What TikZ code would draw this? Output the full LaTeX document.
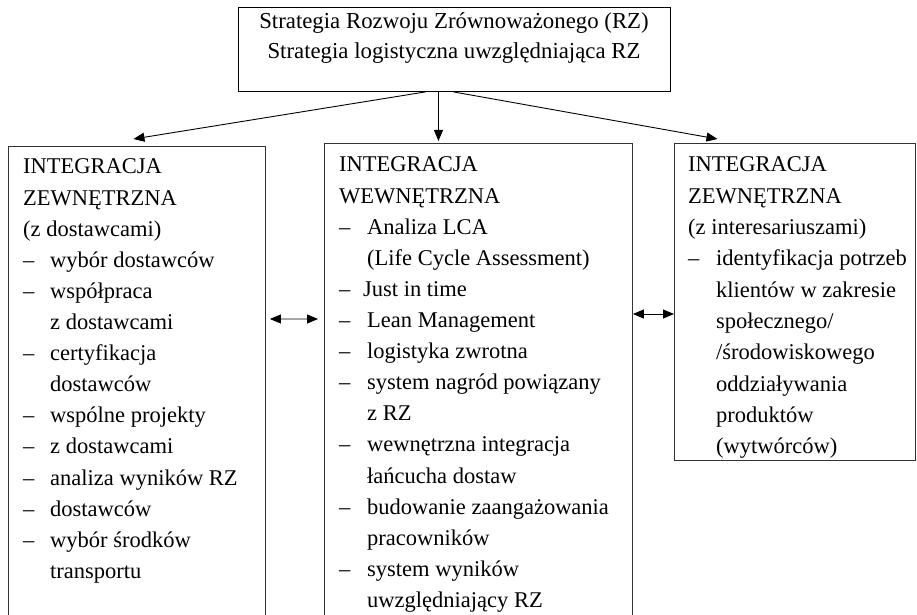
\documentclass[tikz,border=0pt]{standalone}
\usepackage{fontspec}
\setmainfont{Liberation Serif}
\usetikzlibrary{arrows.meta}

% width of the dash column in the bulleted lists
\newlength{\dashw}
\setlength{\dashw}{27bp}
\newcommand{\itm}[1]{\makebox[\dashw][l]{–}#1}
\newcommand{\cont}[1]{\hspace*{\dashw}#1}

\tikzset{
  headbox/.style={draw=black, line width=0.9bp, inner sep=0, anchor=north west},
  panel/.style={draw=black!80, line width=0.9bp, inner sep=0, anchor=north west},
  txt/.style={anchor=base west, inner sep=0, font=\fontsize{22.5bp}{31.1bp}\selectfont},
  link/.style={-{Triangle[length=11bp,width=9bp]}, line width=0.9bp},
  twoway/.style={{Triangle[length=11bp,width=9bp]}-{Triangle[length=11bp,width=9bp]}, line width=0.9bp},
}

\begin{document}
\begin{tikzpicture}[x=1bp,y=-1bp]
\useasboundingbox (0,0) rectangle (917,615);
\clip (0,0) rectangle (917,615);
\fill[white] (0,0) rectangle (917,615);

% strategy box
\node[headbox, minimum width=432bp, minimum height=84bp] (top) at (238,7) {};
\node[anchor=base, inner sep=0, font=\fontsize{22.8bp}{30bp}\selectfont] (toptxt) at (454,29)
  {\begin{tabular}[t]{@{}c@{}}Strategia Rozwoju Zrównoważonego (RZ)\\
   Strategia logistyczna uwzględniająca RZ\end{tabular}};

% three integration panels
\node[panel, minimum width=257bp, minimum height=480bp] (ext1) at (8,146) {};
\node[panel, minimum width=308bp, minimum height=480bp] (int) at (324,143) {};
\node[panel, minimum width=241bp, minimum height=317bp] (ext2) at (674,143) {};

\node[txt] (ext1txt) at (23,174) {\begin{tabular}[t]{@{}l@{}}
  INTEGRACJA\\
  ZEWNĘTRZNA\\
  (z dostawcami)\\
  \itm{wybór dostawców}\\
  \itm{współpraca}\\
  \cont{z dostawcami}\\
  \itm{certyfikacja}\\
  \cont{dostawców}\\
  \itm{wspólne projekty}\\
  \itm{z dostawcami}\\
  \itm{analiza wyników RZ}\\
  \itm{dostawców}\\
  \itm{wybór środków}\\
  \cont{transportu}
\end{tabular}};

\node[txt] (inttxt) at (339,172) {\setlength{\dashw}{28bp}\begin{tabular}[t]{@{}l@{}}
  INTEGRACJA\\
  WEWNĘTRZNA\\
  \itm{Analiza LCA}\\
  \cont{(Life Cycle Assessment)}\\
  \makebox[24bp][l]{–}Just in time\\
  \itm{Lean Management}\\
  \itm{logistyka zwrotna}\\
  \itm{system nagród powiązany}\\
  \cont{z RZ}\\
  \itm{wewnętrzna integracja}\\
  \cont{łańcucha dostaw}\\
  \itm{budowanie zaangażowania}\\
  \cont{pracowników}\\
  \itm{system wyników}\\
  \cont{uwzględniający RZ}
\end{tabular}};

\node[txt, font=\fontsize{22.5bp}{31.3bp}\selectfont] (ext2txt) at (688,172)
  {\setlength{\dashw}{28bp}\begin{tabular}[t]{@{}l@{}}
  INTEGRACJA\\
  ZEWNĘTRZNA\\
  (z interesariuszami)\\
  \itm{identyfikacja potrzeb}\\
  \cont{klientów w zakresie}\\
  \cont{społecznego/}\\
  \cont{/środowiskowego}\\
  \cont{oddziaływania}\\
  \cont{produktów}\\
  \cont{(wytwórców)}
\end{tabular}};

% connectors from the strategy box
\draw[link] ([xshift=-29bp]top.south) -- ([xshift=-3.5bp,yshift=7bp]ext1.north);
\draw[link] ([xshift=-16bp]top.south) -- ([xshift=-40bp,yshift=2bp]int.north);
\draw[link] ([xshift=-1bp]top.south) -- ([xshift=-77.5bp,yshift=4bp]ext2.north);

% two-way links between the panels
\draw[twoway] ([xshift=4bp,yshift=-173bp]ext1.north east) -- ([xshift=-6bp,yshift=-176bp]int.north west);
\draw[twoway] ([yshift=-171bp]int.north east) -- ([yshift=-171bp]ext2.north west);
\end{tikzpicture}
\end{document}
